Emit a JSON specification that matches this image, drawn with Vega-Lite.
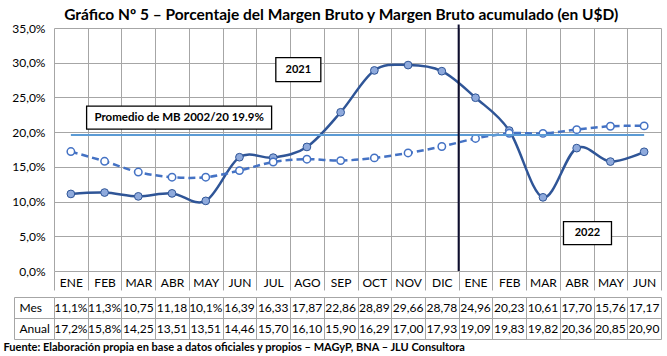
{
  "$schema": "https://vega.github.io/schema/vega-lite/v6.json",
  "padding": {"left": 3, "top": 7, "right": 2, "bottom": 2},
  "background": "white",
  "title": {"text": "Gráfico Nº 5 – Porcentaje del Margen Bruto y Margen Bruto acumulado (en U$D)", "font": "Lato", "fontSize": 15.5, "fontWeight": "bold", "color": "#000000", "anchor": "middle", "offset": -1, "dx": 9},
  "spacing": 0,
  "resolve": {"scale": {"x": "independent", "y": "independent"}},
  "datasets": {
    "t": [
      {"k": "ENE21", "mes": 11.1, "anual": 17.2, "Mes": "11,1%", "Anual": "17,2%"},
      {"k": "FEB21", "mes": 11.3, "anual": 15.8, "Mes": "11,3%", "Anual": "15,8%"},
      {"k": "MAR21", "mes": 10.75, "anual": 14.25, "Mes": "10,75", "Anual": "14,25"},
      {"k": "ABR21", "mes": 11.18, "anual": 13.51, "Mes": "11,18", "Anual": "13,51"},
      {"k": "MAY21", "mes": 10.1, "anual": 13.51, "Mes": "10,1%", "Anual": "13,51"},
      {"k": "JUN21", "mes": 16.39, "anual": 14.46, "Mes": "16,39", "Anual": "14,46"},
      {"k": "JUL21", "mes": 16.33, "anual": 15.70, "Mes": "16,33", "Anual": "15,70"},
      {"k": "AGO21", "mes": 17.87, "anual": 16.10, "Mes": "17,87", "Anual": "16,10"},
      {"k": "SEP21", "mes": 22.86, "anual": 15.90, "Mes": "22,86", "Anual": "15,90"},
      {"k": "OCT21", "mes": 28.89, "anual": 16.29, "Mes": "28,89", "Anual": "16,29"},
      {"k": "NOV21", "mes": 29.66, "anual": 17.00, "Mes": "29,66", "Anual": "17,00"},
      {"k": "DIC21", "mes": 28.78, "anual": 17.93, "Mes": "28,78", "Anual": "17,93"},
      {"k": "ENE22", "mes": 24.96, "anual": 19.09, "Mes": "24,96", "Anual": "19,09"},
      {"k": "FEB22", "mes": 20.23, "anual": 19.83, "Mes": "20,23", "Anual": "19,83"},
      {"k": "MAR22", "mes": 10.61, "anual": 19.82, "Mes": "10,61", "Anual": "19,82"},
      {"k": "ABR22", "mes": 17.70, "anual": 20.36, "Mes": "17,70", "Anual": "20,36"},
      {"k": "MAY22", "mes": 15.76, "anual": 20.85, "Mes": "15,76", "Anual": "20,85"},
      {"k": "JUN22", "mes": 17.17, "anual": 20.90, "Mes": "17,17", "Anual": "20,90"}
    ],
    "prom": [{"k0": "ENE21", "k1": "JUN22", "v": 19.6, "txt": "Promedio de MB 2002/20 19.9%", "kt": "ABR21", "vt": 22.1}],
    "div": [{"k": "ENE22", "top": 35.5, "bottom": 0}],
    "y2021": [{"k": "AGO21", "v": 29.0, "txt": "2021"}],
    "y2022": [{"k": "ABR22", "v": 5.46, "txt": "2022"}]
  },
  "config": {"view": {"stroke": null}},
  "vconcat": [
    {
      "width": 607,
      "height": 243,
      "encoding": {
        "x": {
          "field": "k", "type": "nominal",
          "scale": {"domain": ["ENE21","FEB21","MAR21","ABR21","MAY21","JUN21","JUL21","AGO21","SEP21","OCT21","NOV21","DIC21","ENE22","FEB22","MAR22","ABR22","MAY22","JUN22"], "paddingInner": 0, "paddingOuter": 0},
          "axis": {"title": null, "labelExpr": "substring(datum.label, 0, 3)", "tickBand": "extent", "tickSize": 19, "tickColor": "#A6A6A6", "domain": false, "grid": true, "gridColor": "#A6A6A6", "labelFont": "Lato", "labelFontSize": 12, "labelColor": "#000000", "labelBaseline": "middle", "labelPadding": -8, "labelAngle": 0}
        }
      },
      "layer": [
        {
          "data": {"name": "t"},
          "mark": {"type": "line", "color": "#2F5597", "strokeWidth": 2.5, "interpolate": "cardinal",
                   "point": {"filled": true, "fill": "#8FAADC", "stroke": "#2F5597", "strokeWidth": 1, "size": 60, "opacity": 1}},
          "encoding": {
            "y": {"field": "mes", "type": "quantitative", "title": null,
                  "scale": {"domain": [0, 35], "nice": false},
                  "axis": {"values": [0,5,10,15,20,25,30,35], "labelOverlap": false, "labelExpr": "replace(format(datum.value, '.1f'), '.', ',') + '%'", "title": null, "ticks": false, "domain": false, "grid": true, "gridColor": "#A6A6A6", "labelFont": "Lato", "labelFontSize": 12, "labelColor": "#000000", "labelPadding": 9, "minExtent": 51, "maxExtent": 51}}
          }
        },
        {
          "data": {"name": "t"},
          "mark": {"type": "line", "color": "#4472C4", "strokeWidth": 2.5, "strokeDash": [7, 4], "interpolate": "cardinal",
                   "point": {"filled": true, "fill": "#FFFFFF", "stroke": "#4472C4", "strokeWidth": 1.5, "size": 55, "opacity": 1}},
          "encoding": {"y": {"field": "anual", "type": "quantitative", "title": null,
                  "axis": {"values": [0,5,10,15,20,25,30,35], "labelOverlap": false, "labelExpr": "replace(format(datum.value, '.1f'), '.', ',') + '%'", "title": null, "ticks": false, "domain": false, "grid": true, "gridColor": "#A6A6A6", "labelFont": "Lato", "labelFontSize": 12, "labelColor": "#000000", "labelPadding": 9, "minExtent": 51, "maxExtent": 51}}}
        },
        {
          "data": {"name": "prom"},
          "mark": {"type": "rule", "color": "#5B9BD5", "strokeWidth": 2},
          "encoding": {"x": {"field": "k0", "type": "nominal"}, "x2": {"field": "k1"}, "y": {"field": "v", "type": "quantitative", "title": null,
                  "axis": {"values": [0,5,10,15,20,25,30,35], "labelOverlap": false, "labelExpr": "replace(format(datum.value, '.1f'), '.', ',') + '%'", "title": null, "ticks": false, "domain": false, "grid": true, "gridColor": "#A6A6A6", "labelFont": "Lato", "labelFontSize": 12, "labelColor": "#000000", "labelPadding": 9, "minExtent": 51, "maxExtent": 51}}}
        },
        {
          "data": {"name": "div"},
          "mark": {"type": "rule", "color": "#0D0D2E", "strokeWidth": 2},
          "encoding": {"x": {"field": "k", "type": "nominal", "bandPosition": 0}, "y": {"field": "top", "type": "quantitative", "title": null,
                  "axis": {"values": [0,5,10,15,20,25,30,35], "labelOverlap": false, "labelExpr": "replace(format(datum.value, '.1f'), '.', ',') + '%'", "title": null, "ticks": false, "domain": false, "grid": true, "gridColor": "#A6A6A6", "labelFont": "Lato", "labelFontSize": 12, "labelColor": "#000000", "labelPadding": 9, "minExtent": 51, "maxExtent": 51}}, "y2": {"field": "bottom"}}
        },
        {
          "data": {"name": "prom"},
          "mark": {"type": "point", "shape": "M-92.5,-11.5H92.5V11.5H-92.5Z", "size": 4, "filled": true, "fill": "#FFFFFF", "stroke": "#000000", "strokeWidth": 1.3, "opacity": 1},
          "encoding": {"x": {"field": "kt", "type": "nominal", "bandPosition": 0.71}, "y": {"field": "vt", "type": "quantitative", "title": null,
                  "axis": {"values": [0,5,10,15,20,25,30,35], "labelOverlap": false, "labelExpr": "replace(format(datum.value, '.1f'), '.', ',') + '%'", "title": null, "ticks": false, "domain": false, "grid": true, "gridColor": "#A6A6A6", "labelFont": "Lato", "labelFontSize": 12, "labelColor": "#000000", "labelPadding": 9, "minExtent": 51, "maxExtent": 51}}}
        },
        {
          "data": {"name": "prom"},
          "mark": {"type": "text", "font": "Lato", "fontSize": 11.5, "fontWeight": "bold", "color": "#000000"},
          "encoding": {"x": {"field": "kt", "type": "nominal", "bandPosition": 0.71}, "y": {"field": "vt", "type": "quantitative", "title": null,
                  "axis": {"values": [0,5,10,15,20,25,30,35], "labelOverlap": false, "labelExpr": "replace(format(datum.value, '.1f'), '.', ',') + '%'", "title": null, "ticks": false, "domain": false, "grid": true, "gridColor": "#A6A6A6", "labelFont": "Lato", "labelFontSize": 12, "labelColor": "#000000", "labelPadding": 9, "minExtent": 51, "maxExtent": 51}}, "text": {"field": "txt"}}
        },
        {
          "data": {"name": "y2021"},
          "mark": {"type": "point", "shape": "M-22.5,-12H22.5V12H-22.5Z", "size": 4, "filled": true, "fill": "#FFFFFF", "stroke": "#000000", "strokeWidth": 1.3, "opacity": 1},
          "encoding": {"x": {"field": "k", "type": "nominal", "bandPosition": 0.245}, "y": {"field": "v", "type": "quantitative", "title": null,
                  "axis": {"values": [0,5,10,15,20,25,30,35], "labelOverlap": false, "labelExpr": "replace(format(datum.value, '.1f'), '.', ',') + '%'", "title": null, "ticks": false, "domain": false, "grid": true, "gridColor": "#A6A6A6", "labelFont": "Lato", "labelFontSize": 12, "labelColor": "#000000", "labelPadding": 9, "minExtent": 51, "maxExtent": 51}}}
        },
        {
          "data": {"name": "y2021"},
          "mark": {"type": "text", "font": "Lato", "fontSize": 11, "fontWeight": "bold", "color": "#000000"},
          "encoding": {"x": {"field": "k", "type": "nominal", "bandPosition": 0.245}, "y": {"field": "v", "type": "quantitative", "title": null,
                  "axis": {"values": [0,5,10,15,20,25,30,35], "labelOverlap": false, "labelExpr": "replace(format(datum.value, '.1f'), '.', ',') + '%'", "title": null, "ticks": false, "domain": false, "grid": true, "gridColor": "#A6A6A6", "labelFont": "Lato", "labelFontSize": 12, "labelColor": "#000000", "labelPadding": 9, "minExtent": 51, "maxExtent": 51}}, "text": {"field": "txt"}}
        },
        {
          "data": {"name": "y2022"},
          "mark": {"type": "point", "shape": "M-24,-11.5H24V11.5H-24Z", "size": 4, "filled": true, "fill": "#FFFFFF", "stroke": "#000000", "strokeWidth": 1.3, "opacity": 1},
          "encoding": {"x": {"field": "k", "type": "nominal", "bandPosition": 0.82}, "y": {"field": "v", "type": "quantitative", "title": null,
                  "axis": {"values": [0,5,10,15,20,25,30,35], "labelOverlap": false, "labelExpr": "replace(format(datum.value, '.1f'), '.', ',') + '%'", "title": null, "ticks": false, "domain": false, "grid": true, "gridColor": "#A6A6A6", "labelFont": "Lato", "labelFontSize": 12, "labelColor": "#000000", "labelPadding": 9, "minExtent": 51, "maxExtent": 51}}}
        },
        {
          "data": {"name": "y2022"},
          "mark": {"type": "text", "font": "Lato", "fontSize": 11, "fontWeight": "bold", "color": "#000000"},
          "encoding": {"x": {"field": "k", "type": "nominal", "bandPosition": 0.82}, "y": {"field": "v", "type": "quantitative", "title": null,
                  "axis": {"values": [0,5,10,15,20,25,30,35], "labelOverlap": false, "labelExpr": "replace(format(datum.value, '.1f'), '.', ',') + '%'", "title": null, "ticks": false, "domain": false, "grid": true, "gridColor": "#A6A6A6", "labelFont": "Lato", "labelFontSize": 12, "labelColor": "#000000", "labelPadding": 9, "minExtent": 51, "maxExtent": 51}}, "text": {"field": "txt"}}
        }
      ]
    },
    {
      "width": 607,
      "height": 42,
      "data": {"name": "t"},
      "transform": [{"fold": ["Mes", "Anual"], "as": ["row", "txt"]}],
      "mark": {"type": "text", "font": "Lato", "fontSize": 12, "color": "#000000"},
      "encoding": {
        "x": {
          "field": "k", "type": "nominal",
          "scale": {"domain": ["ENE21","FEB21","MAR21","ABR21","MAY21","JUN21","JUL21","AGO21","SEP21","OCT21","NOV21","DIC21","ENE22","FEB22","MAR22","ABR22","MAY22","JUN22"], "paddingInner": 0, "paddingOuter": 0},
          "axis": {"title": "Fuente: Elaboración propia en base a datos oficiales y propios – MAGyP, BNA – JLU Consultora", "titleX": -51, "titleY": 8, "titleAlign": "left", "titleBaseline": "middle", "titleFont": "Lato", "titleFontSize": 11, "titleFontWeight": "bold", "titleColor": "#000000", "labels": false, "ticks": false, "domain": false, "grid": true, "tickBand": "extent", "gridColor": "#A6A6A6"}
        },
        "y": {
          "field": "row", "type": "nominal", "sort": ["Mes", "Anual"],
          "scale": {"paddingInner": 0, "paddingOuter": 0},
          "axis": {"title": null, "tickBand": "extent", "grid": true, "gridColor": "#A6A6A6", "offset": 40, "domain": true, "domainColor": "#A6A6A6", "ticks": true, "tickColor": "#A6A6A6", "tickSize": -40, "labelAlign": "left", "labelPadding": 35, "labelFont": "Lato", "labelFontSize": 12, "labelColor": "#000000"}
        },
        "text": {"field": "txt"}
      }
    }
  ]
}
